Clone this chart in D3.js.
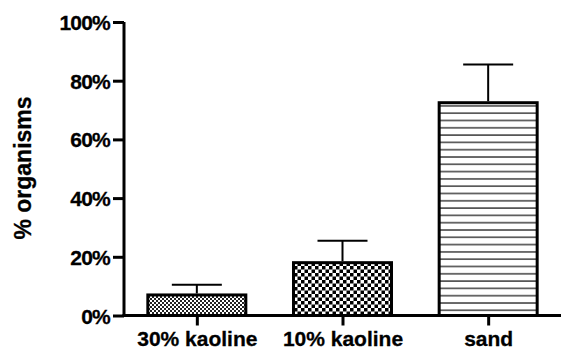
<!DOCTYPE html>
<html><head><meta charset="utf-8">
<script src="https://cdn.jsdelivr.net/npm/d3@7"></script>
<style>body{margin:0;background:#fff}svg{display:block}text{font-family:"Liberation Sans",Arial,sans-serif;font-weight:bold;fill:#000}</style>
</head><body>
<script>
const categories = ["30% kaoline", "10% kaoline", "sand"];
const means = [0.07, 0.18, 0.725];
const errors = [0.035, 0.075, 0.13];
const yTicks = [0, 0.2, 0.4, 0.6, 0.8, 1.0];
const patterns = ["fineCheck", "check", "hlines"];

const W = 561, H = 349;
const svg = d3.select("body").append("svg").attr("width", W).attr("height", H);
const defs = svg.append("defs");
// fine checker
let p = defs.append("pattern").attr("id","fineCheck").attr("patternUnits","userSpaceOnUse").attr("width",4).attr("height",4);
p.append("rect").attr("width",4).attr("height",4).attr("fill","#fff");
p.append("rect").attr("width",2).attr("height",2).attr("fill","#222");
p.append("rect").attr("x",2).attr("y",2).attr("width",2).attr("height",2).attr("fill","#222");
// coarse checker
p = defs.append("pattern").attr("id","check").attr("patternUnits","userSpaceOnUse").attr("width",7).attr("height",7);
p.append("rect").attr("width",7).attr("height",7).attr("fill","#fff");
p.append("rect").attr("width",3.5).attr("height",3.5).attr("fill","#000");
p.append("rect").attr("x",3.5).attr("y",3.5).attr("width",3.5).attr("height",3.5).attr("fill","#000");
// horizontal lines
p = defs.append("pattern").attr("id","hlines").attr("patternUnits","userSpaceOnUse").attr("width",8).attr("height",7.3);
p.append("rect").attr("width",8).attr("height",7.3).attr("fill","#fff");
p.append("rect").attr("y",3).attr("width",8).attr("height",1.4).attr("fill","#333");

const x0 = 124, x1 = 561, yTop = 22, yBot = 315.5;
const x = d3.scalePoint().domain(categories).range([x0, x1]).padding(0.5);
const y = d3.scaleLinear().domain([0, 1]).range([yBot, yTop]);
const barW = 98, capW = 50;
const font = "'Liberation Sans',Arial,sans-serif";

const g = svg.append("g");
// bars
g.selectAll("rect.bar").data(categories).join("rect").attr("class","bar")
  .attr("x", d => x(d) - barW/2).attr("width", barW)
  .attr("y", (d,i) => y(means[i])).attr("height", (d,i) => y(0) - y(means[i]))
  .attr("fill", (d,i) => `url(#${patterns[i]})`)
  .attr("stroke", "#000").attr("stroke-width", 3);
// error bars
g.selectAll("line.err").data(categories).join("line").attr("class","err")
  .attr("x1", d => x(d)).attr("x2", d => x(d))
  .attr("y1", (d,i) => y(means[i]) - 1.5).attr("y2", (d,i) => y(means[i] + errors[i]))
  .attr("stroke","#000").attr("stroke-width",2);
g.selectAll("line.cap").data(categories).join("line").attr("class","cap")
  .attr("x1", d => x(d) - capW/2).attr("x2", d => x(d) + capW/2)
  .attr("y1", (d,i) => y(means[i] + errors[i])).attr("y2", (d,i) => y(means[i] + errors[i]))
  .attr("stroke","#000").attr("stroke-width",2);

// y axis
const yAxis = d3.axisLeft(y).tickValues(yTicks).tickFormat(d3.format(".0%")).tickSize(11).tickPadding(3);
const ya = svg.append("g").attr("transform", `translate(${x0},0)`).call(yAxis);
ya.select(".domain").attr("stroke","#000").attr("stroke-width",3).attr("d", `M0,${yTop}V${yBot+1.5}`);
ya.selectAll(".tick line").attr("stroke","#000").attr("stroke-width",3);
ya.selectAll(".tick text").style("font-size","21px").style("font-family",font).style("font-weight","bold")
  .style("letter-spacing","-0.8px").attr("fill","#000").attr("stroke","#000").attr("stroke-width",0.3)
  .attr("dy","0.36em");

// x axis
const xAxis = d3.axisBottom(x).tickSize(10).tickPadding(4);
const xa = svg.append("g").attr("transform", `translate(0,${yBot})`).call(xAxis);
xa.select(".domain").attr("stroke","#000").attr("stroke-width",3).attr("d", `M${x0-1.5},0H${x1}`);
xa.selectAll(".tick line").attr("stroke","#000").attr("stroke-width",3);
xa.selectAll(".tick text").style("font-size","21px").style("font-family",font).style("font-weight","bold")
  .attr("fill","#000").attr("stroke","#000").attr("stroke-width",0.3)
  .attr("y", 30.5).attr("dy", "0");

// y title
svg.append("text").attr("transform", `translate(31,168) rotate(-90)`)
  .attr("text-anchor","middle").style("font-size","23px").attr("stroke","#000").attr("stroke-width",0.3)
  .text("% organisms");
</script>
</body></html>
